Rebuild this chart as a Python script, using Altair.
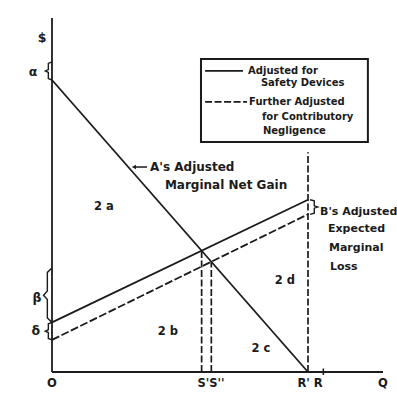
import altair as alt
import pandas as pd

# Quantity runs from O to Q; R' is put at 10 units, the $ axis has alpha at 10.
q_ends = [0.0, 10.0]
gain_a = [10.0, 0.0]          # A's adjusted marginal net gain (alpha at Q = 0, zero at R')
loss_safety = [1.7, 5.9]      # B's loss, adjusted for safety devices
loss_contrib = [1.1, 5.4]     # B's loss, further adjusted for contributory negligence
q_r = 10.6                    # R
q_max = 12.93                 # end of the Q axis
dollar_max = 12.12            # top of the $ axis
alpha_top = 10.62
beta_top = 3.56
r_prime_top = 7.53

INK = "#1b1b1b"
FONT = "DejaVu Sans"


def crossing(gain, loss):
    """Point where the falling gain line meets a rising loss line."""
    span = q_ends[1] - q_ends[0]
    sg = (gain[1] - gain[0]) / span
    sl = (loss[1] - loss[0]) / span
    q = (loss[0] - gain[0]) / (sg - sl)
    return q, gain[0] + sg * q


q_s1, v_s1 = crossing(gain_a, loss_safety)     # S'
q_s2, v_s2 = crossing(gain_a, loss_contrib)    # S''

xs = alt.Scale(domain=[-2.031, 13.477], nice=False, zero=False)
ys = alt.Scale(domain=[-0.753, 12.740], nice=False, zero=False)


def X(f):
    return alt.X(f, type="quantitative", scale=xs, axis=None)


def Y(f):
    return alt.Y(f, type="quantitative", scale=ys, axis=None)


# axes
axes_df = pd.DataFrame({
    "x": [0.0, 0.0], "x2": [q_max, 0.0],
    "y": [0.0, 0.0], "y2": [0.0, dollar_max],
})
axes = alt.Chart(axes_df).mark_rule(color=INK, strokeWidth=1.8).encode(
    x=X("x"), x2="x2", y=Y("y"), y2="y2")

r_tick = alt.Chart(pd.DataFrame({"x": [q_r], "y": [-0.1], "y2": [0.12]})).mark_rule(
    color=INK, strokeWidth=1.6).encode(x=X("x"), y=Y("y"), y2="y2")

# solid curves
solid_df = pd.DataFrame({
    "q": q_ends * 2,
    "v": gain_a + loss_safety,
    "s": ["gain"] * 2 + ["safety"] * 2,
})
solid = alt.Chart(solid_df).mark_line(color=INK, strokeWidth=1.8).encode(
    x=X("q"), y=Y("v"), detail="s:N")

dashed_df = pd.DataFrame({"q": q_ends, "v": loss_contrib})
dashed = alt.Chart(dashed_df).mark_line(
    color=INK, strokeWidth=1.8, strokeDash=[8, 2.5]).encode(x=X("q"), y=Y("v"))

# dropped verticals at S', S'' and R'
vert_df = pd.DataFrame({
    "x": [q_s1, q_s2, q_ends[1]],
    "y": [0.0, 0.0, 0.0],
    "y2": [v_s1, v_s2, r_prime_top],
})
verts = alt.Chart(vert_df).mark_rule(
    color=INK, strokeWidth=1.7, strokeDash=[7, 2.5]).encode(x=X("x"), y=Y("y"), y2="y2")


# curly braces as short polylines
def brace(name, x_edge, lo, hi, depth):
    h = hi - lo
    mid = (lo + hi) / 2
    pts = [
        (x_edge, hi),
        (x_edge + depth * 0.55, hi - h * 0.08),
        (x_edge + depth * 0.55, mid + h * 0.08),
        (x_edge + depth, mid),
        (x_edge + depth * 0.55, mid - h * 0.08),
        (x_edge + depth * 0.55, lo + h * 0.08),
        (x_edge, lo),
    ]
    return [{"b": name, "o": i, "x": px, "y": py} for i, (px, py) in enumerate(pts)]


brace_rows = (
    brace("alpha", 0.0, gain_a[0], alpha_top, -0.26)
    + brace("beta", 0.0, loss_safety[0], beta_top, -0.33)
    + brace("delta", 0.0, loss_contrib[0], loss_safety[0], -0.26)
    + brace("B", q_ends[1] + 0.08, loss_contrib[1], loss_safety[1], 0.3)
)
braces = alt.Chart(pd.DataFrame(brace_rows)).mark_line(
    color=INK, strokeWidth=1.4).encode(
    x=X("x"), y=Y("y"), detail="b:N", order="o:Q")

# arrow pointing at A's line
arrow_df = pd.DataFrame({"x": [3.71], "x2": [3.2], "y": [7.02]})
arrow_shaft = alt.Chart(arrow_df).mark_rule(color=INK, strokeWidth=1.5).encode(
    x=X("x"), x2="x2", y=Y("y"))
arrow_head = alt.Chart(arrow_df).mark_point(
    shape="triangle-left", filled=True, color=INK, size=22, opacity=1).encode(
    x=X("x2"), y=Y("y"))

# legend box
box = alt.Chart(pd.DataFrame({"x": [5.82], "x2": [12.34], "y": [7.88], "y2": [10.72]})).mark_rect(
    filled=False, stroke=INK, strokeWidth=2).encode(x=X("x"), x2="x2", y=Y("y"), y2="y2")
key_solid = alt.Chart(pd.DataFrame({"x": [5.98], "x2": [7.46], "y": [10.31]})).mark_rule(
    color=INK, strokeWidth=1.8).encode(x=X("x"), x2="x2", y=Y("y"))
key_dash = alt.Chart(pd.DataFrame({"x": [5.98], "x2": [7.62], "y": [9.25]})).mark_rule(
    color=INK, strokeWidth=1.8, strokeDash=[7, 2.5]).encode(x=X("x"), x2="x2", y=Y("y"))

# text
symbol_labels = pd.DataFrame({
    "t": ["$", "α", "β", "δ"],
    "x": [-0.39, -0.74, -0.59, -0.63],
    "y": [11.44, 10.27, 2.53, 1.40],
})
centre_labels = pd.DataFrame({
    "t": ["O", "S'S''", "R' R", "Q", "2 a", "2 b", "2 c", "2 d"],
    "x": [0.0, 6.21, 10.08, 12.93, 2.03, 4.53, 8.16, 9.10],
    "y": [-0.41, -0.41, -0.41, -0.41, 5.65, 1.37, 0.79, 3.12],
})
gain_labels = pd.DataFrame({
    "t": ["A's Adjusted", "Marginal Net Gain"],
    "x": [3.83, 4.41],
    "y": [7.02, 6.40],
})
loss_labels = pd.DataFrame({
    "t": ["B's Adjusted", "Expected", "Marginal", "Loss"],
    "x": [10.47, 10.78, 10.82, 10.86],
    "y": [5.48, 4.90, 4.25, 3.60],
})
key_labels = pd.DataFrame({
    "t": ["Adjusted for", "Safety Devices", "Further Adjusted", "for Contributory", "Negligence"],
    "x": [7.66, 8.16, 7.70, 8.20, 8.24],
    "y": [10.31, 9.90, 9.25, 8.73, 8.25],
})


def labels(df, size, align):
    return alt.Chart(df).mark_text(
        font=FONT, fontSize=size, fontWeight="bold", color=INK,
        align=align, baseline="middle").encode(x=X("x"), y=Y("y"), text="t:N")


chart = alt.layer(
    axes, r_tick, verts, solid, dashed, braces, arrow_shaft, arrow_head,
    box, key_solid, key_dash,
    labels(symbol_labels, 12.5, "center"),
    labels(centre_labels, 11.5, "center"),
    labels(gain_labels, 12, "left"),
    labels(loss_labels, 11, "left"),
    labels(key_labels, 10, "left"),
).properties(
    width=397, height=394, padding=0, autosize=alt.AutoSizeParams(type="none"),
    background="white",
).configure_view(stroke=None)

chart.save("out.html", embed_options={"renderer": "svg", "actions": False})
